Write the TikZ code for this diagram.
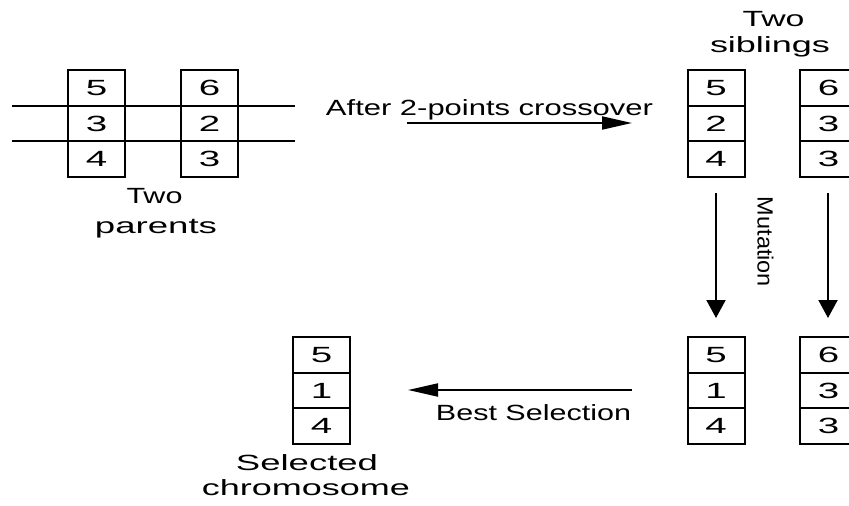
\documentclass[tikz,border=0pt]{standalone}
\usepackage{fontspec}
\setmainfont{Liberation Sans}
\usepackage{graphicx}
\usetikzlibrary{arrows.meta}
% text stretched to a given width, keeping its height
\newcommand{\widetext}[2]{\resizebox{#1pt}{\height}{#2}}
% one gene value, set wide
\newcommand{\genevalue}[1]{\scalebox{1.75}[1]{#1}}

\begin{document}
\begin{tikzpicture}[x=1pt,y=-1pt,
  cell/.style={draw, line width=2pt, minimum width=57pt, minimum height=35.67pt,
    inner sep=0pt, outer sep=0pt, font=\fontsize{22pt}{26pt}\selectfont},
  txt/.style={inner sep=0pt, anchor=base, font=\fontsize{22pt}{26pt}\selectfont},
  flow/.style={line width=2pt},
  harrow/.style={flow, -{Triangle[length=30pt,width=13pt]}},
  varrow/.style={flow, -{Triangle[length=18pt,width=19pt]}},
]
\useasboundingbox (0,0) rectangle (849,506);
\clip (0,0) rectangle (849,506);

% ---- parents ----
\node[cell] (pa1) at (96.5,87.8)  {\genevalue{5}};
\node[cell] (pa2) at (96.5,123.5) {\genevalue{3}};
\node[cell] (pa3) at (96.5,159.2) {\genevalue{4}};
\node[cell] (pb1) at (209.5,87.8)  {\genevalue{6}};
\node[cell] (pb2) at (209.5,123.5) {\genevalue{2}};
\node[cell] (pb3) at (209.5,159.2) {\genevalue{3}};

% crossover cut lines
\coordinate (cutAL) at (12,105.67);
\coordinate (cutAR) at (295,105.67);
\coordinate (cutBL) at (12,141.33);
\coordinate (cutBR) at (295,141.33);
\draw[flow] (cutAL) -- (cutAR);
\draw[flow] (cutBL) -- (cutBR);

\node[txt] (ptwo) at (154.5,203) {\widetext{56}{Two}};
\node[txt] (plab) at (156,233) {\widetext{122}{parents}};

% ---- siblings after crossover ----
\node[cell] (sa1) at (716,87.8)  {\genevalue{5}};
\node[cell] (sa2) at (716,123.5) {\genevalue{2}};
\node[cell] (sa3) at (716,159.2) {\genevalue{4}};
\node[cell] (sb1) at (828.5,87.8)  {\genevalue{6}};
\node[cell] (sb2) at (828.5,123.5) {\genevalue{3}};
\node[cell] (sb3) at (828.5,159.2) {\genevalue{3}};

\node[txt] (stwo) at (773.5,27) {\widetext{62}{Two}};
\node[txt] (slab) at (770,52) {\widetext{120}{siblings}};

% ---- siblings after mutation ----
\node[cell] (ma1) at (716,354.8) {\genevalue{5}};
\node[cell] (ma2) at (716,390.5) {\genevalue{1}};
\node[cell] (ma3) at (716,426.2) {\genevalue{4}};
\node[cell] (mb1) at (828.5,354.8) {\genevalue{6}};
\node[cell] (mb2) at (828.5,390.5) {\genevalue{3}};
\node[cell] (mb3) at (828.5,426.2) {\genevalue{3}};

% ---- selected chromosome ----
\node[cell] (se1) at (321.5,354.8) {\genevalue{5}};
\node[cell] (se2) at (321.5,390.5) {\genevalue{1}};
\node[cell] (se3) at (321.5,426.2) {\genevalue{4}};

\node[txt] (selA) at (307,470) {\widetext{142}{Selected}};
\node[txt] (selB) at (306,495) {\widetext{208}{chromosome}};

% ---- operations ----
\coordinate (xoS) at (407,123);
\coordinate (xoE) at (632,123);
\draw[harrow] (xoS) -- (xoE);
\node[txt] (xolab) at (489.5,115) {\widetext{327}{After 2-points crossover}};

\coordinate (muAS) at (716,193);
\coordinate (muAE) at (716,318);
\coordinate (muBS) at (828,193);
\coordinate (muBE) at (828,318);
\draw[varrow] (muAS) -- (muAE);
\draw[varrow] (muBS) -- (muBE);
\node[txt, anchor=center, rotate=-90] (mulab) at (765.5,242) {\widetext{90}{Mutation}};

\coordinate (bsS) at (632,390);
\coordinate (bsE) at (408,390);
\draw[harrow] (bsS) -- (bsE);
\node[txt] (bslab) at (533.5,420) {\widetext{195}{Best Selection}};
\end{tikzpicture}
\end{document}
